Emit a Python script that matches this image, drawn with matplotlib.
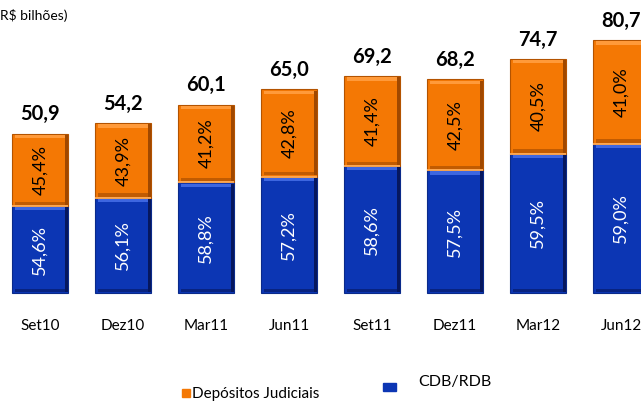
import matplotlib
matplotlib.use("Agg")
import matplotlib.pyplot as plt
import numpy as np

categories = ["Set10", "Dez10", "Mar11", "Jun11", "Set11", "Dez11", "Mar12", "Jun12"]
totals = [50.9, 54.2, 60.1, 65.0, 69.2, 68.2, 74.7, 80.7]
cdb_pct = [54.6, 56.1, 58.8, 57.2, 58.6, 57.5, 59.5, 59.0]
dep_pct = [45.4, 43.9, 41.2, 42.8, 41.4, 42.5, 40.5, 41.0]

BLUE = "#0c36b4"
ORANGE = "#f47804"

plt.rcParams["font.family"] = ["Lato", "DejaVu Sans"]

fig = plt.figure(figsize=(6.41, 4.01), dpi=100)
ax = fig.add_axes([0, 0, 1, 1])
ax.set_xlim(-0.482, 7.24)
ax.set_ylim(-34.4, 93.5)
ax.axis("off")

x = np.arange(len(categories))
tot = np.array(totals)
cdb = tot * np.array(cdb_pct) / 100
dep = tot * np.array(dep_pct) / 100
w = 0.68

ax.bar(x, cdb, width=w, color=BLUE, edgecolor="#0a2a8a", linewidth=0.8)
ax.bar(x, dep, width=w, bottom=cdb, color=ORANGE, edgecolor="#b35300", linewidth=0.8)

# simple bevel: light band at top, dark band on right and bottom of each segment
bw, bh = 0.035, 1.0
for bottoms, heights, light, dark in ((np.zeros_like(cdb), cdb, "#3d66e0", "#06175e"),
                                      (cdb, dep, "#ff9a3a", "#a04800")):
    ax.bar(x, bh, width=w - 2 * bw, bottom=bottoms + heights - bh - 0.4, color=light, linewidth=0)
    ax.bar(x + w / 2 - bw / 2, heights - 0.8, width=bw, bottom=bottoms + 0.4, color=dark, linewidth=0)
    ax.bar(x, bh, width=w - 2 * bw, bottom=bottoms + 0.4, color=dark, linewidth=0, alpha=0.6)
# light seam between segments
ax.hlines(cdb, x - w / 2, x + w / 2, color="#ffb060", linewidth=1.2)

for i in range(len(x)):
    ax.text(x[i], cdb[i] / 2, f"{cdb_pct[i]:.1f}%".replace(".", ","), rotation=90,
            ha="center", va="center", color="white", fontsize=13)
    ax.text(x[i], cdb[i] + dep[i] / 2, f"{dep_pct[i]:.1f}%".replace(".", ","), rotation=90,
            ha="center", va="center", color="black", fontsize=13)
    ax.text(x[i], tot[i] + 3.0, f"{totals[i]:.1f}".replace(".", ","), ha="center",
            va="bottom", fontsize=14.5, fontweight="bold")
    ax.text(x[i], -10.5, categories[i], ha="center", va="center", fontsize=11)

fig.text(0.0, 1 - 16 / 401, "R$ bilhões)", ha="left", va="center", fontsize=10)

# legend drawn by hand
fig.patches.append(plt.Rectangle((182 / 641, 1 - 397 / 401), 8 / 641, 8 / 401,
                                 transform=fig.transFigure, color=ORANGE))
fig.text(192 / 641, 1 - 394 / 401, "Depósitos Judiciais", ha="left", va="center", fontsize=11)
fig.patches.append(plt.Rectangle((383 / 641, 1 - 391 / 401), 13 / 641, 8 / 401,
                                 transform=fig.transFigure, color=BLUE))
fig.text(418 / 641, 1 - 382 / 401, "CDB/RDB", ha="left", va="center", fontsize=11.5)

fig.savefig("out.png", dpi=100)
